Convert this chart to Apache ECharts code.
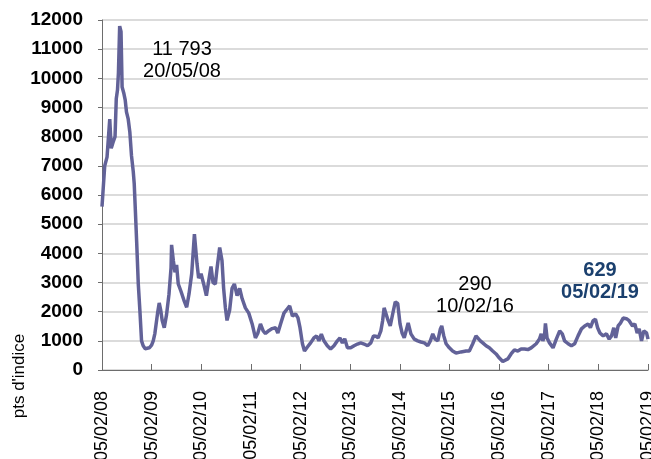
<!DOCTYPE html>
<html>
<head>
<meta charset="utf-8">
<script src="https://cdn.jsdelivr.net/npm/echarts@6/dist/echarts.min.js"></script>
<style>
  html, body { margin: 0; padding: 0; background: #fff; }
  #chart { width: 651px; height: 459px; }
</style>
</head>
<body>
<div id="chart"></div>
<script>
// Baltic Dry Index
const dates = [
  "2008-02-05", "2008-02-15", "2008-02-25", "2008-03-13", "2008-04-02", "2008-04-13", "2008-04-26", "2008-05-11",
  "2008-05-20", "2008-05-29", "2008-06-05", "2008-06-14", "2008-06-24", "2008-07-02", "2008-07-14", "2008-07-25",
  "2008-08-03", "2008-08-16", "2008-08-28", "2008-09-09", "2008-09-22", "2008-09-29", "2008-10-09", "2008-10-17",
  "2008-10-29", "2008-11-10", "2008-11-22", "2008-12-04", "2008-12-19", "2009-01-01", "2009-01-18", "2009-02-04",
  "2009-02-16", "2009-02-28", "2009-03-20", "2009-04-01", "2009-04-12", "2009-04-23", "2009-05-08", "2009-05-25",
  "2009-06-12", "2009-06-27", "2009-07-01", "2009-07-14", "2009-07-26", "2009-08-07", "2009-08-19", "2009-09-08",
  "2009-10-03", "2009-10-20", "2009-11-06", "2009-11-26", "2009-12-16", "2010-01-04", "2010-01-16", "2010-02-03",
  "2010-02-22", "2010-03-14", "2010-03-31", "2010-04-17", "2010-05-02", "2010-05-19", "2010-06-01", "2010-06-20",
  "2010-07-07", "2010-07-19", "2010-08-01", "2010-08-13", "2010-09-01", "2010-09-19", "2010-10-06", "2010-10-26",
  "2010-11-14", "2010-12-02", "2010-12-26", "2011-01-20", "2011-02-14", "2011-03-10", "2011-03-27", "2011-04-16",
  "2011-05-06", "2011-05-23", "2011-06-16", "2011-07-11", "2011-08-05", "2011-08-22", "2011-09-11", "2011-10-06",
  "2011-10-31", "2011-11-17", "2011-12-07", "2011-12-31", "2012-01-17", "2012-02-01", "2012-02-19", "2012-03-05",
  "2012-03-25", "2012-04-19", "2012-05-13", "2012-06-02", "2012-06-19", "2012-07-07", "2012-07-26", "2012-08-20",
  "2012-09-13", "2012-10-08", "2012-11-02", "2012-11-21", "2012-12-09", "2012-12-26", "2013-01-15", "2013-02-08",
  "2013-03-05", "2013-03-30", "2013-04-23", "2013-05-18", "2013-06-12", "2013-07-06", "2013-07-26", "2013-08-12",
  "2013-08-29", "2013-09-18", "2013-10-01", "2013-10-12", "2013-10-25", "2013-11-11", "2013-11-26", "2013-12-14",
  "2014-01-02", "2014-01-20", "2014-02-06", "2014-02-21", "2014-03-09", "2014-03-29", "2014-04-07", "2014-04-27",
  "2014-05-22", "2014-06-16", "2014-07-10", "2014-08-04", "2014-08-29", "2014-09-17", "2014-10-05", "2014-10-22",
  "2014-11-11", "2014-11-30", "2014-12-10", "2014-12-25", "2015-01-11", "2015-02-04", "2015-02-28", "2015-03-25",
  "2015-05-01", "2015-06-07", "2015-07-01", "2015-07-26", "2015-08-19", "2015-09-01", "2015-09-20", "2015-10-08",
  "2015-11-01", "2015-11-25", "2015-12-20", "2016-01-14", "2016-02-07", "2016-03-03", "2016-04-09", "2016-05-03",
  "2016-05-28", "2016-06-22", "2016-07-16", "2016-08-10", "2016-09-04", "2016-09-28", "2016-11-04", "2016-11-28",
  "2016-12-11", "2016-12-23", "2017-01-04", "2017-01-11", "2017-01-23", "2017-02-10", "2017-03-08", "2017-04-01",
  "2017-04-26", "2017-05-15", "2017-06-01", "2017-06-27", "2017-07-21", "2017-08-14", "2017-09-08", "2017-10-03",
  "2017-10-27", "2017-11-21", "2017-12-08", "2017-12-28", "2018-01-14", "2018-01-30", "2018-02-16", "2018-03-12",
  "2018-04-05", "2018-04-25", "2018-05-12", "2018-05-29", "2018-06-12", "2018-06-30", "2018-07-17", "2018-08-06",
  "2018-08-30", "2018-09-19", "2018-10-14", "2018-10-31", "2018-11-17", "2018-12-02", "2018-12-19", "2019-01-05",
  "2019-01-25", "2019-02-05"
];
const values = [
  5600, 6300, 7000, 7300, 8600, 7600, 7800, 8000,
  9300, 9600, 10200, 11793, 11600, 9700, 9500, 9250,
  8850, 8600, 8150, 7350, 6800, 6400, 5300, 4400,
  2950, 2030, 1000, 830, 730, 663, 760, 850,
  1000, 1250, 1950, 2300, 2050, 1700, 1450, 1900,
  2600, 3500, 4290, 3750, 3350, 3600, 2950, 2700,
  2350, 2150, 2600, 3300, 4661, 3650, 3150, 3300,
  2950, 2550, 3050, 3550, 3000, 2950, 3500, 4200,
  3750, 2800, 2130, 1700, 2050, 2800, 2950, 2550,
  2800, 2450, 2130, 1950, 1580, 1100, 1250, 1580,
  1340, 1250, 1350, 1420, 1450, 1270, 1580, 1950,
  2100, 2200, 1850, 1920, 1790, 1450, 900, 650,
  780, 930, 1100, 1170, 1000, 1230, 1000, 830,
  720, 830, 1000, 1100, 930, 1070, 760, 760,
  830, 890, 930, 890, 830, 930, 1170, 1160,
  1100, 1340, 1690, 2130, 2100, 1690, 1510, 1920,
  2337, 2280, 1580, 1270, 1100, 1450, 1610, 1240,
  1060, 1000, 960, 930, 830, 1000, 1240, 1060,
  1000, 1410, 1510, 1170, 900, 760, 650, 580,
  620, 650, 650, 900, 1170, 1220, 1000, 930,
  830, 760, 650, 550, 410, 290, 380, 550,
  690, 650, 720, 720, 700, 760, 900, 1060,
  1240, 1000, 1170, 1600, 1100, 930, 760, 1060,
  1340, 1240, 1000, 900, 830, 900, 1170, 1410,
  1510, 1580, 1450, 1690, 1743, 1450, 1270, 1170,
  1240, 1060, 1170, 1450, 1100, 1510, 1610, 1780,
  1760, 1690, 1510, 1580, 1270, 1410, 1000, 1340,
  1270, 1060
];
const startDate = "2008-02-05";
const xTickPrefix = "05/02/";
const yTicks = { min: 0, max: 12000, step: 1000 };
const yName = "pts d'indice";
const peakNote = ["11 793", "20/05/08"];
const lowNote = ["290", "10/02/16"];
const lastNote = ["629", "05/02/19"];

const YEAR_MS = 365.25 * 24 * 3600 * 1000;
const t0 = Date.parse(startDate);
const seriesData = dates.map((d, i) => [(Date.parse(d) - t0) / YEAR_MS, values[i]]);

const font = "'Liberation Sans', Arial, sans-serif";
const chart = echarts.init(document.getElementById("chart"));

chart.setOption({
  animation: false,
  backgroundColor: "#fff",
  grid: { left: 102, right: 3, top: 20, bottom: 89, outerBoundsMode: "none", containLabel: false },
  xAxis: {
    type: "value",
    min: 0,
    max: 11,
    interval: 1,
    axisLine: { show: true, lineStyle: { color: "#6d6d6d", width: 1 } },
    axisTick: { show: true, inside: true, length: 6, lineStyle: { color: "#6d6d6d" } },
    splitLine: { show: false },
    axisLabel: {
      rotate: 90,
      margin: 21,
      fontFamily: font,
      fontSize: 18,
      color: "#000",
      showMaxLabel: true,
      formatter: (v) => xTickPrefix + String(8 + Math.round(v)).padStart(2, "0"),
    },
  },
  yAxis: {
    type: "value",
    min: yTicks.min,
    max: yTicks.max,
    interval: yTicks.step,
    axisLine: { show: true, lineStyle: { color: "#6d6d6d", width: 1 } },
    axisTick: { show: true, length: 4, lineStyle: { color: "#6d6d6d" } },
    splitLine: { show: true, lineStyle: { color: "#cfcfcf", width: 1.5 } },
    axisLabel: {
      margin: 19,
      fontFamily: font,
      fontSize: 19,
      fontWeight: "bold",
      color: "#000",
      formatter: (v) => String(v),
    },
  },
  series: [
    {
      type: "line",
      data: seriesData,
      showSymbol: false,
      smooth: false,
      lineStyle: { color: "#626298", width: 3.5 },
      itemStyle: { color: "#626298" },
    },
  ],
  graphic: [
    {
      type: "text",
      z: 100,
      x: 19.5,
      y: 376,
      rotation: Math.PI / 2,
      style: {
        text: yName,
        font: "17px " + font,
        fill: "#000",
        textAlign: "center",
        textVerticalAlign: "middle",
      },
    },
    {
      type: "text",
      z: 100,
      x: 182,
      y: 60.5,
      style: {
        text: peakNote.join("\n"),
        font: "20px " + font,
        lineHeight: 22,
        fill: "#000",
        textAlign: "center",
        textVerticalAlign: "middle",
      },
    },
    {
      type: "text",
      z: 100,
      x: 475,
      y: 295.5,
      style: {
        text: lowNote.join("\n"),
        font: "20px " + font,
        lineHeight: 22,
        fill: "#000",
        textAlign: "center",
        textVerticalAlign: "middle",
      },
    },
    {
      type: "text",
      z: 100,
      x: 600,
      y: 281,
      style: {
        text: lastNote.join("\n"),
        font: "bold 20px " + font,
        lineHeight: 22,
        fill: "#1b406e",
        textAlign: "center",
        textVerticalAlign: "middle",
      },
    },
  ],
});
</script>
</body>
</html>
